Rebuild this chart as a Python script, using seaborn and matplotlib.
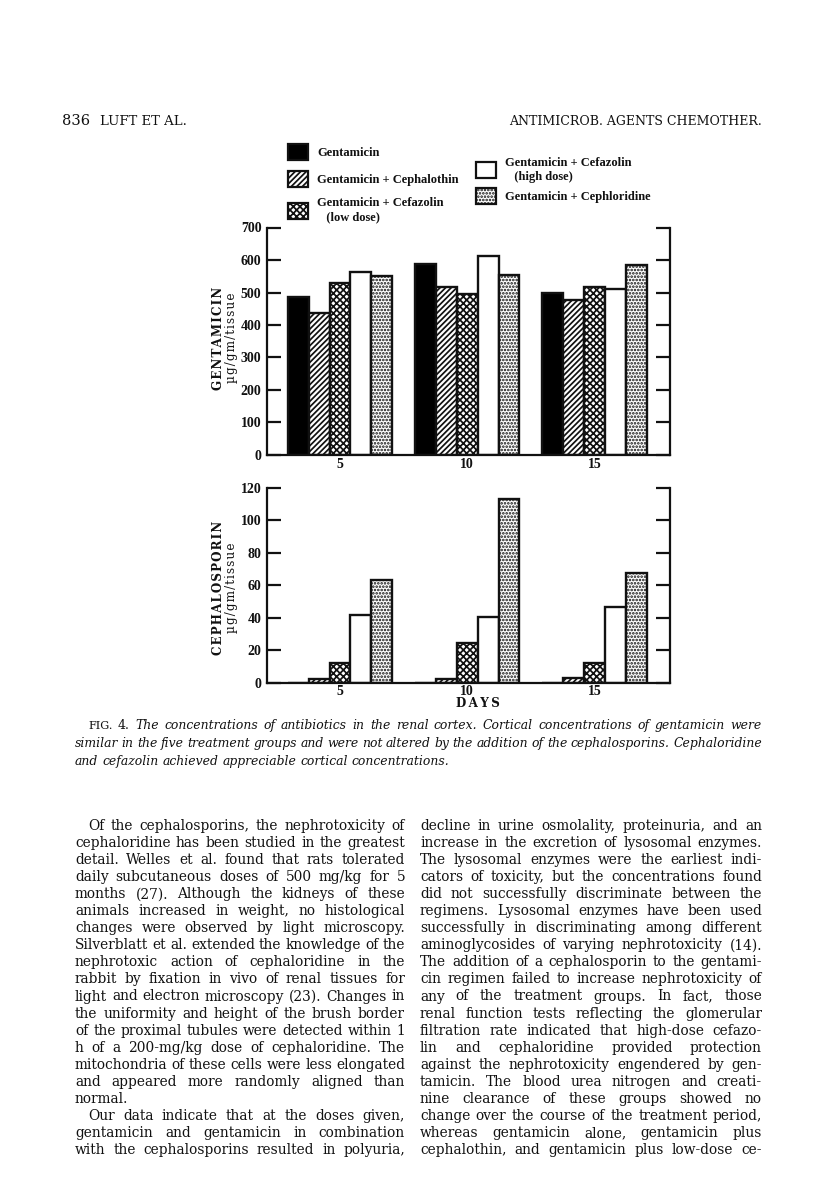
import numpy as np
import pandas as pd
import matplotlib
matplotlib.use("Agg")
import matplotlib.pyplot as plt
import seaborn as sns
from matplotlib.patches import Patch
from matplotlib.font_manager import FontProperties

# ---------------- data ----------------
days = ["5", "10", "15"]
treatments = ["Gentamicin", "Gentamicin + Cephalothin", "Gentamicin + Cefazolin (low dose)",
              "Gentamicin + Cefazolin (high dose)", "Gentamicin + Cephloridine"]
legend_labels = ["Gentamicin", "Gentamicin + Cephalothin", "Gentamicin + Cefazolin\n   (low dose)",
                 "Gentamicin + Cefazolin\n   (high dose)", "Gentamicin + Cephloridine"]

gent_gentamicin = [487, 588, 499]
gent_cephalothin = [438, 518, 477]
gent_cefazolin_low = [528, 494, 517]
gent_cefazolin_high = [564, 612, 511]
gent_cephaloridine = [551, 555, 585]

ceph_gentamicin = [0, 0, 0]
ceph_cephalothin = [2.0, 2.5, 2.7]
ceph_cefazolin_low = [12.3, 24.2, 11.9]
ceph_cefazolin_high = [41.5, 40.6, 46.4]
ceph_cephaloridine = [63, 113, 67.7]

top_ticks = [0, 100, 200, 300, 400, 500, 600, 700]
bottom_ticks = [0, 20, 40, 60, 80, 100, 120]

header_left_num = "836"
header_left = "LUFT ET AL."
header_right = "ANTIMICROB. AGENTS CHEMOTHER."

caption_lines = [
    "FIG. 4. The concentrations of antibiotics in the renal cortex. Cortical concentrations of gentamicin were",
    "similar in the five treatment groups and were not altered by the addition of the cephalosporins. Cephaloridine",
    "and cefazolin achieved appreciable cortical concentrations.",
]
left_col = [
    "Of the cephalosporins, the nephrotoxicity of",
    "cephaloridine has been studied in the greatest",
    "detail. Welles et al. found that rats tolerated",
    "daily subcutaneous doses of 500 mg/kg for 5",
    "months (27). Although the kidneys of these",
    "animals increased in weight, no histological",
    "changes were observed by light microscopy.",
    "Silverblatt et al. extended the knowledge of the",
    "nephrotoxic action of cephaloridine in the",
    "rabbit by fixation in vivo of renal tissues for",
    "light and electron microscopy (23). Changes in",
    "the uniformity and height of the brush border",
    "of the proximal tubules were detected within 1",
    "h of a 200-mg/kg dose of cephaloridine. The",
    "mitochondria of these cells were less elongated",
    "and appeared more randomly aligned than",
    "normal.",
    "Our data indicate that at the doses given,",
    "gentamicin and gentamicin in combination",
    "with the cephalosporins resulted in polyuria,",
]
right_col = [
    "decline in urine osmolality, proteinuria, and an",
    "increase in the excretion of lysosomal enzymes.",
    "The lysosomal enzymes were the earliest indi-",
    "cators of toxicity, but the concentrations found",
    "did not successfully discriminate between the",
    "regimens. Lysosomal enzymes have been used",
    "successfully in discriminating among different",
    "aminoglycosides of varying nephrotoxicity (14).",
    "The addition of a cephalosporin to the gentami-",
    "cin regimen failed to increase nephrotoxicity of",
    "any of the treatment groups. In fact, those",
    "renal function tests reflecting the glomerular",
    "filtration rate indicated that high-dose cefazo-",
    "lin and cephaloridine provided protection",
    "against the nephrotoxicity engendered by gen-",
    "tamicin. The blood urea nitrogen and creati-",
    "nine clearance of these groups showed no",
    "change over the course of the treatment period,",
    "whereas gentamicin alone, gentamicin plus",
    "cephalothin, and gentamicin plus low-dose ce-",
]
left_indent = {0, 17}
left_ragged = {16}

# ---------------- styling ----------------
faces = ["black", "white", "white", "white", "white"]
hatches = [None, "//////", "xxxxx", None, "....."]
INK = "#111111"
HS = "\u200a"  # hair space for letter-spaced labels
TS = "\u2009"  # thin space

sns.set_theme(style="white")
plt.rcParams["hatch.linewidth"] = 1.25
plt.rcParams["hatch.color"] = INK
plt.rcParams["font.family"] = ["Liberation Serif", "DejaVu Serif"]

W, H = 816, 1193
fig = plt.figure(figsize=(W / 100, H / 100), dpi=100)
fig.patch.set_facecolor("white")


def fx(x):
    return x / W


def fy(y):
    return 1 - y / H


def long_df(cols):
    rows = []
    for t, vals in zip(treatments, cols):
        for d, v in zip(days, vals):
            rows.append({"day": d, "treatment": t, "value": v})
    return pd.DataFrame(rows)


df_top = long_df([gent_gentamicin, gent_cephalothin, gent_cefazolin_low,
                  gent_cefazolin_high, gent_cephaloridine])
df_bot = long_df([ceph_gentamicin, ceph_cephalothin, ceph_cefazolin_low,
                  ceph_cefazolin_high, ceph_cephaloridine])

tick_font = dict(family="Liberation Serif", weight="bold", size=10)

ax1 = fig.add_axes([fx(267), fy(455), fx(670) - fx(267), fy(227.5) - fy(455)])
ax2 = fig.add_axes([fx(267), fy(682.7), fx(670) - fx(267), fy(487.7) - fy(682.7)])

for ax, df, ticks in [(ax1, df_top, top_ticks), (ax2, df_bot, bottom_ticks)]:
    sns.barplot(data=df, x="day", y="value", hue="treatment", order=days,
                hue_order=treatments, palette=dict(zip(treatments, faces)),
                saturation=1, width=0.82, gap=0, edgecolor=INK, linewidth=1.7,
                errorbar=None, legend=False, ax=ax)
    for cont, h in zip(ax.containers, hatches):
        for bar in cont:
            if h:
                bar.set_hatch(h)
    ax.set_xlim(-0.573, 2.592)
    ax.set_ylim(ticks[0], ticks[-1])
    ax.set_yticks(ticks)
    ax.set_yticklabels([str(t) for t in ticks], fontdict=tick_font, color=INK)
    ax.set_xticks(range(len(days)))
    ax.set_xticklabels(days, fontdict=tick_font, color=INK)
    ax.set_xlabel("")
    ax.set_ylabel("")
    ax.set_facecolor("white")
    for s in ["left", "right", "bottom"]:
        ax.spines[s].set_visible(True)
        ax.spines[s].set_linewidth(1.6)
        ax.spines[s].set_color(INK)
    ax.spines["top"].set_visible(False)
    ax.tick_params(axis="y", direction="in", length=10, width=1.6, color=INK,
                   left=True, right=True, labelleft=True, labelright=False, pad=4)
    ax.tick_params(axis="x", length=0, pad=2)

ax2.set_xlabel(TS.join("DAYS"), fontdict=dict(family="DejaVu Serif", weight="bold", size=8.6),
               color=INK, labelpad=0)
ax2.xaxis.set_label_coords(0.524, -0.108, transform=ax2.transAxes)
ax2.xaxis.label.set_va("center")

# y labels (two lines, rotated)
ylab_font = dict(family="DejaVu Serif", size=8.6, color=INK, rotation=90,
                 ha="center", va="center")
unit = HS.join("µg/gm/tissue")
fig.text(fx(218), fy(338), HS.join("GENTAMICIN"), weight="bold", **ylab_font)
fig.text(fx(231), fy(338), unit, **ylab_font)
fig.text(fx(218), fy(588), HS.join("CEPHALOSPORIN"), weight="bold", **ylab_font)
fig.text(fx(231), fy(588), unit, **ylab_font)

# legends
leg_prop = FontProperties(family="Liberation Serif", weight="bold", size=9)
handles = [Patch(facecolor=f, edgecolor=INK, hatch=h, linewidth=1.6)
           for f, h in zip(faces, hatches)]
leg1 = fig.legend(handles[:3], legend_labels[:3], loc="upper left",
                  bbox_to_anchor=(fx(288), fy(144)), frameon=False, prop=leg_prop,
                  handlelength=1.6, handleheight=1.6, labelspacing=0.85,
                  handletextpad=0.75, borderpad=0, borderaxespad=0)
leg2 = fig.legend(handles[3:], legend_labels[3:], loc="upper left",
                  bbox_to_anchor=(fx(476), fy(157)), frameon=False, prop=leg_prop,
                  handlelength=1.6, handleheight=1.6, labelspacing=0.4,
                  handletextpad=0.75, borderpad=0, borderaxespad=0)
for leg in (leg1, leg2):
    for t in leg.get_texts():
        t.set_color(INK)

# ---------------- page text ----------------
renderer = fig.canvas.get_renderer()
FAMILY = "DejaVu Serif"
MIN_GAP = 3.6


def word_widths(words, size, styles=None, sizes=None):
    ws = []
    for i, w in enumerate(words):
        st = styles[i] if styles else "normal"
        sz = sizes[i] if sizes else size
        t = fig.text(0, 0, w, fontsize=sz, family=FAMILY, style=st)
        ws.append(t.get_window_extent(renderer).width)
        t.remove()
    return ws


def fit_size(lines, x0, x1, base=10.0, styles="normal"):
    k = 10.0
    for line in lines:
        words = line.split()
        ww = sum(word_widths(words, base, styles=[styles] * len(words)))
        k = min(k, (x1 - x0 - MIN_GAP * (len(words) - 1)) / ww)
    return base * k


def put_line(words, x0, x1, ybase, justify, size, styles=None, sizes=None):
    objs = []
    for i, w in enumerate(words):
        st = styles[i] if styles else "normal"
        sz = sizes[i] if sizes else size
        t = fig.text(fx(x0), fy(ybase), w, fontsize=sz, family=FAMILY, style=st,
                     va="baseline", ha="left", color=INK)
        objs.append(t)
    ws = [t.get_window_extent(renderer).width for t in objs]
    gap = size * 1.389 * 0.32
    if justify and len(words) > 1:
        gap = (x1 - x0 - sum(ws)) / (len(words) - 1)
    x = x0
    for t, w in zip(objs, ws):
        t.set_x(fx(x))
        x += w + gap


# header
fig.text(fx(62), fy(125), header_left_num, fontsize=10.5, family=FAMILY,
         va="baseline", ha="left", color=INK)
fig.text(fx(100), fy(125), header_left, fontsize=9.5, family=FAMILY,
         va="baseline", ha="left", color=INK)
fig.text(fx(762), fy(125), header_right, fontsize=9, family=FAMILY,
         va="baseline", ha="right", color=INK)

# body columns
just_left = [l for i, l in enumerate(left_col) if i not in left_ragged and i not in left_indent]
BODY = min(fit_size(just_left, 75, 405), fit_size(right_col, 420, 762))
y0, dy = 830, 17.05
for i, line in enumerate(left_col):
    x0 = 75 + (13 if i in left_indent else 0)
    put_line(line.split(), x0, 405, y0 + i * dy, i not in left_ragged, BODY)
for i, line in enumerate(right_col):
    put_line(line.split(), 420, 762, y0 + i * dy, True, BODY)

# caption
CAP = fit_size(caption_lines[1:2], 75, 762, styles="italic")
cap_x0, cap_x1 = 75, 762
for i, line in enumerate(caption_lines):
    words = line.split()
    styles = ["italic"] * len(words)
    sizes = [CAP] * len(words)
    x0 = cap_x0
    if i == 0:
        styles[0] = "normal"
        styles[1] = "normal"
        sizes[0] = CAP - 0.8
        x0 = cap_x0 + 13
    put_line(words, x0, cap_x1, 729 + i * 18, i < len(caption_lines) - 1, CAP,
             styles=styles, sizes=sizes)

fig.savefig("out.png", dpi=100, facecolor="white")
